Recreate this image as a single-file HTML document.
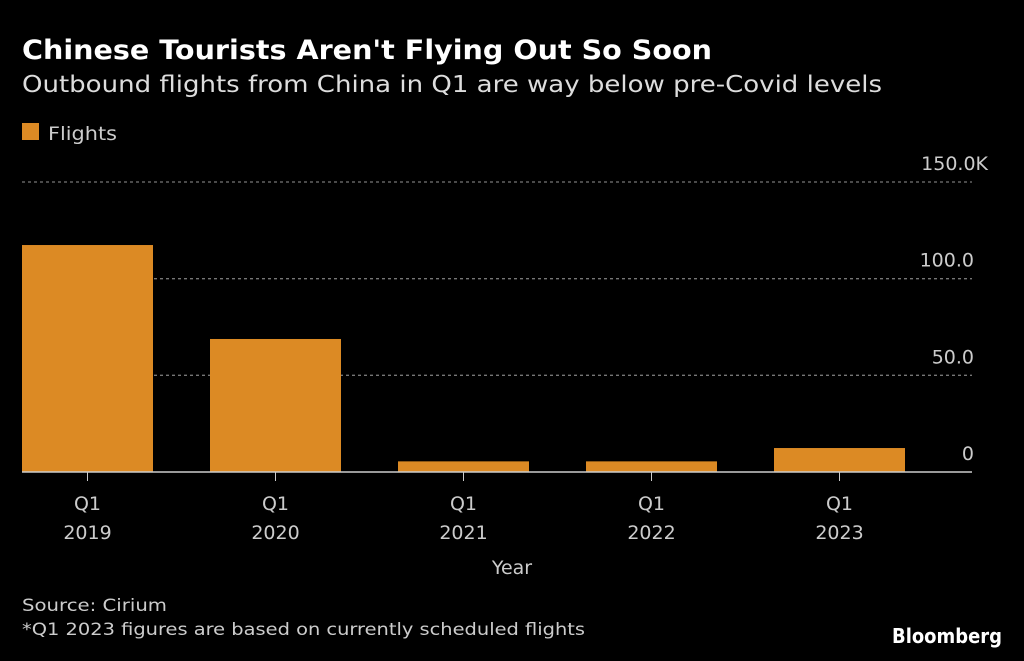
<!DOCTYPE html>
<html><head><meta charset="utf-8"><style>
body{margin:0;background:#000;width:1024px;height:657px;overflow:hidden;font-family:"DejaVu Sans","Liberation Sans",sans-serif;color:#ccc}
svg text{font-family:"DejaVu Sans","Liberation Sans",sans-serif}
</style></head><body>
<svg width="1024" height="657">
<text x="22" y="59" fill="#fff" font-size="27" font-weight="bold" textLength="690" lengthAdjust="spacingAndGlyphs">Chinese Tourists Aren't Flying Out So Soon</text>
<text x="22" y="92" fill="#ddd" font-size="23" textLength="860" lengthAdjust="spacingAndGlyphs">Outbound flights from China in Q1 are way below pre-Covid levels</text>
<rect x="22" y="123" width="17" height="17" fill="#dc8a24"/>
<text x="48" y="140" fill="#ccc" font-size="19" textLength="69" lengthAdjust="spacingAndGlyphs">Flights</text>
<g id="grid"></g><g id="bars"></g><g id="xaxis"></g>
<text x="512" y="574" fill="#ccc" font-size="19" text-anchor="middle">Year</text>
<text x="22" y="611" fill="#ccc" font-size="17" textLength="145" lengthAdjust="spacingAndGlyphs">Source: Cirium</text>
<text x="22" y="635" fill="#ccc" font-size="17" textLength="563" lengthAdjust="spacingAndGlyphs">*Q1 2023 figures are based on currently scheduled flights</text>
<text x="1002" y="643" fill="#fff" font-size="20" font-weight="bold" text-anchor="end" textLength="110" lengthAdjust="spacingAndGlyphs">Bloomberg</text>
</svg>
<script>
const categories=["2019","2020","2021","2022","2023"];
const values=[117.4,68.8,5.5,5.5,12.4];
const ticks=[0,50,100,150];
const tickLabels=["0","50.0","100.0","150.0K"];
const NS="http://www.w3.org/2000/svg";
const y0=472,ppk=290/150,left=22,step=188,bw=131;
const y=v=>y0-v*ppk;
const x=i=>left+i*step;
function mk(t,a,p){const e=document.createElementNS(NS,t);for(const k in a)e.setAttribute(k,a[k]);p.appendChild(e);return e;}
const g=document.getElementById('grid'),b=document.getElementById('bars'),xa=document.getElementById('xaxis');
ticks.forEach((t,i)=>{
 if(t>0){const l=mk('line',{x1:22,x2:972,y1:y(t),y2:y(t),stroke:'#777','stroke-dasharray':'3,3','stroke-width':1.3},g);
 
 }
 const anchorX=tickLabels[i].endsWith('K')?988:974;
 const tx=mk('text',{x:anchorX,y:y(t)-12,fill:'#ccc','font-size':19,'text-anchor':'end'},g);
 tx.textContent=tickLabels[i];
 
 
});
values.forEach((v,i)=>{
 const r=mk('rect',{x:x(i),y:y(v),width:bw,height:y0-y(v),fill:'#dc8a24'},b);
 
 
 const cx=x(i)+bw/2;
 const tk=mk('line',{x1:cx,x2:cx,y1:y0,y2:y0+9,stroke:'#ccc','stroke-width':1},xa);
 
 
 const t1=mk('text',{x:cx,y:510,fill:'#ccc','font-size':19,'text-anchor':'middle'},xa);
 t1.textContent='Q1';
 
 
 const t2=mk('text',{x:cx,y:539,fill:'#ccc','font-size':19,'text-anchor':'middle'},xa);
 t2.textContent=categories[i];
 
 
});
const ax=mk('line',{x1:22,x2:972,y1:y0,y2:y0,stroke:'#ccc','stroke-width':1.5},xa);


</script>
</body></html>
